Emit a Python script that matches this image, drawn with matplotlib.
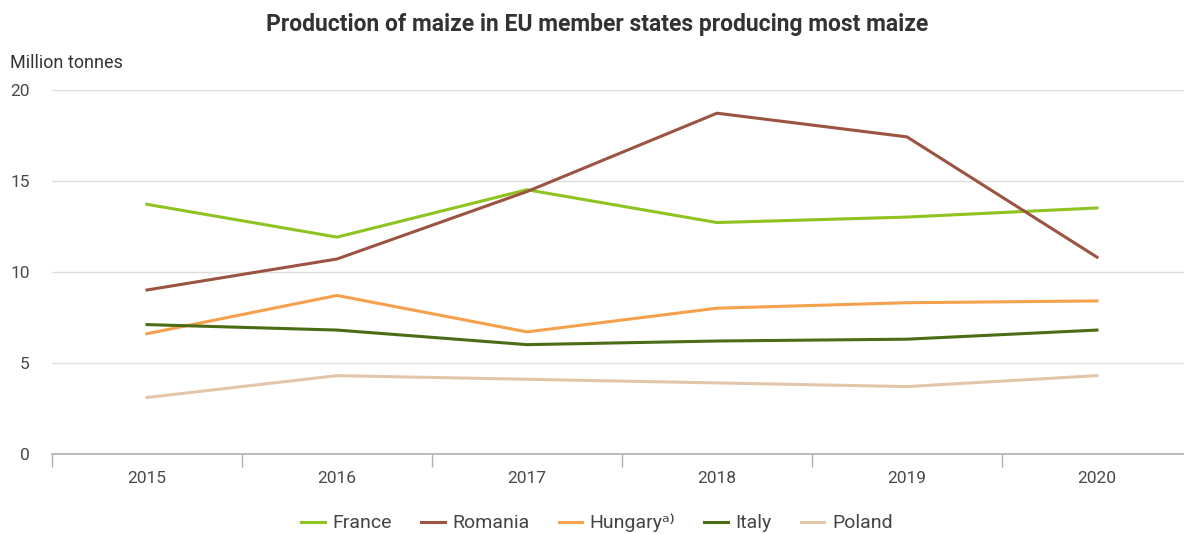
import matplotlib.pyplot as plt
from matplotlib.lines import Line2D

plt.rcParams['font.family'] = ['Roboto', 'DejaVu Sans']

years = ['2015', '2016', '2017', '2018', '2019', '2020']
france = [13.7, 11.9, 14.5, 12.7, 13.0, 13.5]
romania = [9.0, 10.7, 14.4, 18.7, 17.4, 10.8]
hungary = [6.6, 8.7, 6.7, 8.0, 8.3, 8.4]
italy = [7.1, 6.8, 6.0, 6.2, 6.3, 6.8]
poland = [3.1, 4.3, 4.1, 3.9, 3.7, 4.3]

names = ['France', 'Romania', 'Hungary\u1d43\u207e', 'Italy', 'Poland']
colors = ['#8fc31f', '#9c5442', '#f5a04c', '#4b6b14', '#e3c6aa']
series = [france, romania, hungary, italy, poland]

fig = plt.figure(figsize=(11.84, 5.34), dpi=100)
# axes runs slightly past the right edge like the original
ax = fig.add_axes([52/1184, (534-454)/534, 1140/1184, (454-89.5)/534])

x = list(range(len(years)))
for vals, c in zip(series, colors):
    ax.plot(x, vals, color=c, lw=2.2, solid_joinstyle='round', zorder=3)

ax.set_xlim(-0.5, 5.5)
ax.set_ylim(0, 20)
ax.set_yticks([0, 5, 10, 15, 20])
ax.set_xticks(x)
ax.set_xticklabels(years)
ax.set_xticks([i - 0.5 for i in range(7)], minor=True)
ax.tick_params(axis='x', which='major', length=0, pad=12, labelsize=12.5, labelcolor='#4a4a4a')
ax.tick_params(axis='x', which='minor', length=9, color='#b0b0b0', width=1)
ax.tick_params(axis='y', length=0, pad=16, labelsize=12.5, labelcolor='#4a4a4a')
ax.grid(axis='y', color='#dedede', lw=1)
ax.set_axisbelow(True)
for s in ['top', 'right', 'left']:
    ax.spines[s].set_visible(False)
ax.spines['bottom'].set_color('#b0b0b0')
ax.spines['bottom'].set_linewidth(1.2)

fig.text(597/1184, 1 - 24/534, 'Production of maize in EU member states producing most maize',
         ha='center', va='center', fontsize=16.5, fontweight='bold', color='#333333')
fig.text(10/1184, 1 - 63/534, 'Million tonnes', ha='left', va='center',
         fontsize=13, color='#333333')

handles = [Line2D([], [], color=c, lw=2.2) for c in colors]
fig.legend(handles, names, loc='center', bbox_to_anchor=(597/1184, 1 - 523/534),
           ncol=5, frameon=False, fontsize=14, handlelength=1.2, handletextpad=0.4,
           columnspacing=1.5, labelcolor='#444444')

fig.savefig('out.png', dpi=100)
